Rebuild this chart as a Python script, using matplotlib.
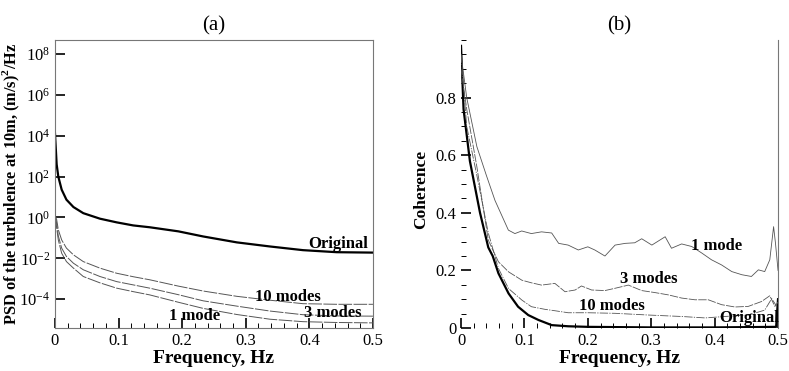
import numpy as np
import matplotlib
matplotlib.use("Agg")
import matplotlib.pyplot as plt
from matplotlib.ticker import MultipleLocator, LogLocator, FuncFormatter

plt.rcParams["font.family"] = ["Liberation Serif", "DejaVu Serif"]
plt.rcParams["mathtext.fontset"] = "custom"
plt.rcParams["mathtext.rm"] = "Liberation Serif"
plt.rcParams["mathtext.bf"] = "Liberation Serif:bold"

# (a) PSD (frequency in Hz, log10 of PSD in (m/s)^2/Hz)
psd_f = [0.0, 0.0026, 0.0052, 0.0105, 0.018, 0.029, 0.0445, 0.0707, 0.097, 0.123, 0.149, 0.194,
         0.233, 0.286, 0.338, 0.39, 0.443, 0.5]
log_orig = [4.1, 2.6, 2.0, 1.36, 0.87, 0.51, 0.21, -0.06, -0.24, -0.39, -0.48, -0.68,
            -0.93, -1.22, -1.42, -1.6, -1.7, -1.72]
log_10 = [0.1, -0.1, -0.6, -1.1, -1.5, -1.83, -2.16, -2.48, -2.73, -2.9, -3.05, -3.36,
          -3.6, -3.86, -4.05, -4.22, -4.25, -4.25]
log_3 = [0.1, -0.3, -0.9, -1.5, -1.91, -2.24, -2.56, -2.89, -3.14, -3.3, -3.46, -3.78,
         -4.08, -4.34, -4.58, -4.76, -4.82, -4.83]
log_1 = [0.1, -0.5, -1.1, -1.75, -2.16, -2.48, -2.89, -3.2, -3.46, -3.63, -3.79, -4.15,
         -4.45, -4.75, -4.98, -5.1, -5.14, -5.16]

# (b) coherence
coh_f_orig = [0.0, 0.004, 0.014, 0.03, 0.043, 0.05, 0.059, 0.075, 0.09, 0.106, 0.122, 0.143, 0.169,
              0.2, 0.3, 0.4, 0.497, 0.5]
coh_orig = [0.98, 0.76, 0.58, 0.4, 0.28, 0.25, 0.19, 0.12, 0.074, 0.045, 0.028, 0.01, 0.006,
            0.004, 0.002, 0.002, 0.004, 0.1]

coh_f_1 = [0.0, 0.009, 0.025, 0.04, 0.0536, 0.0747, 0.085, 0.0957, 0.111, 0.127, 0.143, 0.154, 0.169,
           0.185, 0.2, 0.211, 0.227, 0.243, 0.259, 0.274, 0.285, 0.301, 0.322, 0.332, 0.348, 0.364,
           0.38, 0.395, 0.411, 0.427, 0.443, 0.458, 0.469, 0.479, 0.487, 0.493, 0.496, 0.5]
coh_1 = [0.95, 0.8, 0.63, 0.53, 0.443, 0.34, 0.328, 0.337, 0.328, 0.334, 0.33, 0.294, 0.288,
         0.271, 0.282, 0.271, 0.25, 0.288, 0.294, 0.296, 0.31, 0.288, 0.317, 0.277, 0.292, 0.283,
         0.26, 0.237, 0.219, 0.196, 0.185, 0.179, 0.202, 0.196, 0.237, 0.352, 0.294, 0.2]

coh_f_3 = [0.0, 0.009, 0.025, 0.043, 0.059, 0.075, 0.096, 0.111, 0.127, 0.148, 0.164, 0.18, 0.19,
           0.206, 0.227, 0.243, 0.264, 0.285, 0.306, 0.327, 0.348, 0.369, 0.39, 0.411, 0.432, 0.453,
           0.474, 0.487, 0.495, 0.5]
coh_3 = [0.9, 0.76, 0.56, 0.305, 0.23, 0.195, 0.166, 0.157, 0.149, 0.155, 0.126, 0.132, 0.146,
         0.132, 0.13, 0.138, 0.149, 0.13, 0.123, 0.115, 0.104, 0.098, 0.098, 0.081, 0.073, 0.075,
         0.092, 0.112, 0.075, 0.09]

coh_f_10 = [0.0, 0.009, 0.025, 0.043, 0.059, 0.075, 0.096, 0.111, 0.132, 0.148, 0.169, 0.2, 0.243,
            0.296, 0.348, 0.385, 0.416, 0.453, 0.479, 0.49, 0.498]
coh_10 = [0.95, 0.7, 0.53, 0.33, 0.207, 0.137, 0.097, 0.074, 0.065, 0.06, 0.053, 0.053, 0.051,
          0.045, 0.04, 0.035, 0.04, 0.045, 0.062, 0.102, 0.075]

fig = plt.figure(figsize=(7.89, 3.71), dpi=100)
ax1 = fig.add_axes([0.0697, 0.1159, 0.403, 0.776])
ax2 = fig.add_axes([0.5843, 0.1159, 0.4018, 0.776])

gray = "#555555"
fmt_x = FuncFormatter(lambda v, _: "0" if abs(v) < 1e-9 else "%g" % v)

# (a)
ax1.semilogy(psd_f, 10.0 ** np.array(log_orig), color="black", lw=1.6)
for vals in (log_10, log_3, log_1):
    ax1.semilogy(psd_f, 10.0 ** np.array(vals), color=gray, lw=0.7, dashes=(14, 1.5))
ax1.set_xlim(0, 0.5)
ax1.set_ylim(10 ** -5.41, 10 ** 8.68)
ax1.yaxis.set_major_locator(LogLocator(base=100.0, numticks=10))
ax1.yaxis.set_minor_locator(plt.NullLocator())
ax1.xaxis.set_major_locator(MultipleLocator(0.1))
ax1.xaxis.set_minor_locator(MultipleLocator(0.02))
ax1.xaxis.set_major_formatter(fmt_x)
ax1.tick_params(which="both", direction="in", labelsize=12, color="black")
ax1.tick_params(which="major", length=7, width=1.2)
ax1.tick_params(which="minor", length=3.5, width=0.7)
for s in ax1.spines.values():
    s.set_color("#777777")
    s.set_linewidth(0.8)
ax1.set_xlabel("Frequency, Hz", fontsize=14, fontweight="bold", labelpad=0.5)
ax1.set_ylabel(r"PSD of the turbulence at 10m, (m/s)$^\mathbf{2}$/Hz", fontsize=11.8, fontweight="bold")
ax1.yaxis.set_label_coords(-0.103, 0.5)
ax1.set_title("(a)", fontsize=15, pad=7)
ax1.text(0.445, 10 ** -1.32, "Original", fontsize=12, fontweight="bold", ha="center", va="center")
ax1.text(0.366, 10 ** -3.87, "10 modes", fontsize=12, fontweight="bold", ha="center", va="center")
ax1.text(0.437, 10 ** -4.66, "3 modes", fontsize=12, fontweight="bold", ha="center", va="center")
ax1.text(0.22, 10 ** -4.8, "1 mode", fontsize=12, fontweight="bold", ha="center", va="center")

# (b)
ax2.plot(coh_f_orig, coh_orig, color="black", lw=1.6)
ax2.plot(coh_f_1, coh_1, color=gray, lw=0.6)
ax2.plot(coh_f_3, coh_3, color=gray, lw=0.6, dashes=(10, 1.5))
ax2.plot(coh_f_10, coh_10, color=gray, lw=0.6, dashes=(10, 1.5, 1.5, 1.5))
ax2.set_xlim(0, 0.5)
ax2.set_ylim(0, 1.0)
ax2.xaxis.set_major_locator(MultipleLocator(0.1))
ax2.xaxis.set_minor_locator(MultipleLocator(0.02))
ax2.xaxis.set_major_formatter(fmt_x)
ax2.yaxis.set_minor_locator(MultipleLocator(0.05))
ax2.set_yticks([0, 0.2, 0.4, 0.6, 0.8])
ax2.set_yticklabels(["0", "0.2", "0.4", "0.6", "0.8"])
ax2.tick_params(which="both", direction="in", labelsize=12, color="black")
ax2.tick_params(which="major", length=7, width=1.2)
ax2.tick_params(which="minor", length=3.5, width=0.7)
ax2.spines["top"].set_visible(False)
ax2.spines["left"].set_visible(False)
ax2.spines["bottom"].set_visible(False)
ax2.spines["right"].set_color("#777777")
ax2.spines["right"].set_linewidth(0.8)
ax2.set_xlabel("Frequency, Hz", fontsize=14, fontweight="bold", labelpad=0.5)
ax2.set_ylabel("Coherence", fontsize=12.5, fontweight="bold")
ax2.yaxis.set_label_coords(-0.1, 0.48)
ax2.set_title("(b)", fontsize=15, pad=7)
ax2.text(0.403, 0.286, "1 mode", fontsize=12, fontweight="bold", ha="center", va="center")
ax2.text(0.296, 0.17, "3 modes", fontsize=12, fontweight="bold", ha="center", va="center")
ax2.text(0.238, 0.077, "10 modes", fontsize=12, fontweight="bold", ha="center", va="center")
ax2.text(0.454, 0.035, "Original", fontsize=12, fontweight="bold", ha="center", va="center")

fig.savefig("out.png", dpi=100)
